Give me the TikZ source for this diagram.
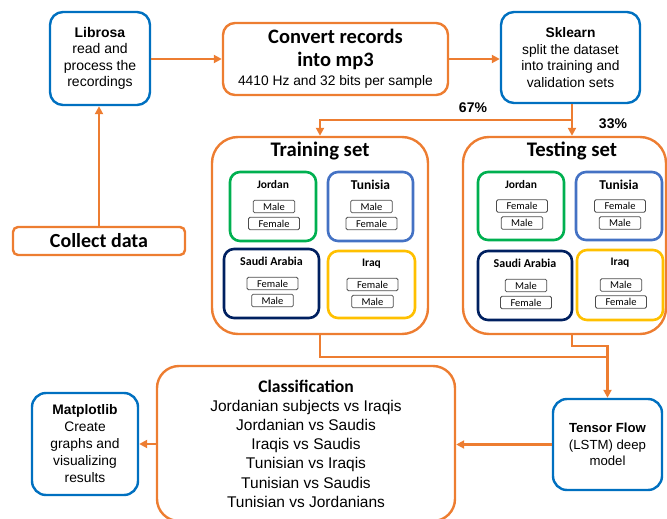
\documentclass[tikz,border=0pt]{standalone}
\usepackage{fontspec}
\setmainfont{Liberation Sans}
\newfontfamily\carlito{Carlito}
\usetikzlibrary{arrows.meta}
\definecolor{orng}{HTML}{ED7D31}
\definecolor{toolblue}{HTML}{0070C0}
\definecolor{jogreen}{HTML}{00B050}
\definecolor{tublue}{HTML}{4472C4}
\definecolor{sanavy}{HTML}{002060}
\definecolor{iqgold}{HTML}{FFC000}
\tikzset{
 tool/.style={draw=toolblue,line width=2.4pt,rounded corners=13pt,align=center,inner sep=2pt,font=\fontsize{13.8}{16.5}\selectfont},
 stage/.style={draw=orng,line width=2.4pt,rounded corners=12pt,align=center,inner sep=2pt},
 setbox/.style={draw=orng,line width=2.4pt,rounded corners=26pt},
 country/.style={line width=2.6pt,rounded corners=10pt},
 gender/.style={draw=gray!60!black,line width=0.8pt,rounded corners=1.5pt,inner xsep=10pt,inner ysep=0pt,minimum height=12.5pt,font=\carlito\fontsize{10.5}{12}\selectfont},
 flow/.style={orng,line width=2.4pt},
}
\begin{document}
\begin{tikzpicture}[x=1pt,y=-1pt,>={Triangle[length=8pt,width=8pt]}]
 \useasboundingbox (0,0) rectangle (667,519);
 \node[tool,minimum width=100pt,minimum height=93pt,font=\fontsize{14}{16.5}\selectfont] (lib) at (100,58.5) {\textbf{Librosa}\\read and\\process the\\recordings};
 \node[stage,minimum width=225pt,minimum height=72pt,font=\carlito\bfseries\fontsize{20.5}{23}\selectfont] (conv) at (335.5,59) {Convert records\\into mp3\\[-4pt]\normalfont\fontsize{13.8}{15}\selectfont 4410 Hz and 32 bits per sample};
 \node[tool,minimum width=139pt,minimum height=91pt] (skl) at (570.5,57.5) {\textbf{Sklearn}\\split the dataset\\into training and\\validation sets};
 \node[stage,rounded corners=5pt,minimum width=172pt,minimum height=28pt,font=\carlito\bfseries\fontsize{20}{22}\selectfont] (collect) at (99,241) {Collect data};
 \node[setbox,minimum width=216pt,minimum height=197pt] (train) at (320,235.5) {};
 \node[setbox,minimum width=203pt,minimum height=197pt] (test) at (564.5,235.5) {};
 \node[font=\carlito\bfseries\fontsize{20.7}{22}\selectfont] (train-t) at (320,151) {Training set};
 \node[font=\carlito\bfseries\fontsize{20.7}{22}\selectfont] (test-t) at (572,151) {Testing set};
 \foreach \n/\x/\y/\w/\h/\c/\t/\s/\a/\b in {
  tjo/273/206.5/86/69/jogreen/Jordan/11.5/Male/Female,
  ttu/370.5/206.5/85/69/tublue/Tunisia/13.5/Male/Female,
  tsa/271.5/283.5/95/69/sanavy/Saudi Arabia/12/Female/Male,
  tiq/371.5/284.5/87/67/iqgold/Iraq/11.5/Female/Male,
  sjo/521/206/86/68/jogreen/Jordan/11.5/Female/Male,
  stu/619/206/86/68/tublue/Tunisia/13.5/Female/Male,
  ssa/525/285.5/94/69/sanavy/Saudi Arabia/12/Male/Female,
  siq/620/285/86/70/iqgold/Iraq/11.5/Male/Female}
 {
  \node[country,draw=\c,minimum width=\w pt,minimum height=\h pt] (\n) at (\x,\y) {};
  \node[font=\carlito\bfseries\fontsize{\s}{\s}\selectfont] (\n-t) at ([yshift=-14pt]\n.north) {\t};
  \node[gender] (\n-a) at ([xshift=1pt]\n.center) {\a};
  \node[gender] (\n-b) at ([xshift=1pt,yshift=-17pt]\n.center) {\b};
 }
 \node[stage,rounded corners=22pt,minimum width=298pt,minimum height=155pt,font=\fontsize{15.5}{19.2}\selectfont] (cls) at (306,443.5) {{\carlito\bfseries\fontsize{17.6}{19}\selectfont Classification}\\Jordanian subjects vs Iraqis\\Jordanian vs Saudis\\Iraqis vs Saudis\\Tunisian vs Iraqis\\Tunisian vs Saudis\\Tunisian vs Jordanians};
 \node[tool,rounded corners=14pt,minimum width=106pt,minimum height=102pt,font=\fontsize{13.8}{17}\selectfont] (mpl) at (85,444) {\textbf{Matplotlib}\\Create\\graphs and\\visualizing\\results};
 \node[tool,rounded corners=14pt,minimum width=109pt,minimum height=91pt,font=\fontsize{13.2}{16.5}\selectfont] (tf) at (607.5,444.5) {\textbf{Tensor Flow}\\(LSTM) deep\\model};
 \node[font=\bfseries\fontsize{14}{16}\selectfont] (p67) at (473,108) {67\%};
 \node[font=\bfseries\fontsize{14}{16}\selectfont] (p33) at (613,124) {33\%};
 \coordinate (split) at (572,120);
 \coordinate (tdrop) at (572,346);
 \coordinate (jt) at (607.5,357);
 \draw[flow,->] (collect.north) -- (collect.north |- lib.south);
 \draw[flow,->] (lib.east |- conv) -- (conv.west);
 \draw[flow,->] (conv.east) -- (conv.east -| skl.west);
 \draw[flow] (skl.south -| split) -- (split);
 \draw[flow,->] (split) -| (train.north);
 \draw[flow,->] (split) -- (test.north -| split);
 \draw[flow,->] (test.south -| tdrop) -- (tdrop) -| (tf.north);
 \draw[flow] (train.south) |- (jt);
 \draw[flow,->] (tf.west) -- (tf.west -| cls.east);
 \draw[flow,->] (cls.west |- mpl) -- (mpl.east);
\end{tikzpicture}
\end{document}
